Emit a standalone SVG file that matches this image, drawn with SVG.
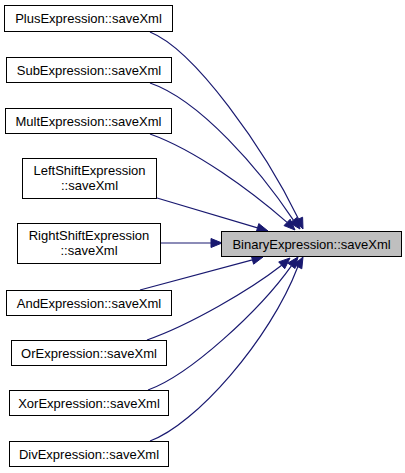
<svg xmlns="http://www.w3.org/2000/svg" width="405" height="473" viewBox="0 0 405 473">
<style>
.box{fill:#ffffff;stroke:#000000;stroke-width:1}
.main{fill:#bfbfbf;stroke:#000000;stroke-width:1}
text{font-family:"Liberation Sans",Arial,sans-serif;font-size:13px;fill:#000000;text-anchor:middle}
.edge path{fill:none;stroke:#191970;stroke-width:1.2}
.edge polygon{fill:#191970;stroke:#191970;stroke-width:1}
</style>
<rect width="405" height="473" fill="#ffffff"/>
<g id="edges" class="edge">
<path d="M150,32 C195,50 265,150 298.5,219"/>
<polygon points="294.4,220.9 302.6,217.2 303,229"/>
<path d="M150,83 C200,100 260,170 293.4,220.2"/>
<polygon points="289.8,222.9 297,217.5 300,229"/>
<path d="M150,134 C195,150 250,190 287.1,222.4"/>
<polygon points="284,225.6 290.2,219.2 295,230"/>
<path d="M157,198 L257.5,227.9"/>
<polygon points="256.2,232.2 258.8,223.6 268,231"/>
<path d="M161,243 L211,243"/>
<polygon points="211,238.5 211,247.5 222,243"/>
<path d="M140,290 L252.4,259.8"/>
<polygon points="253.6,264.2 251.2,255.5 263,257"/>
<path d="M147,340 C190,325 250,290 281.7,265.3"/>
<polygon points="284.7,268.7 278.7,261.9 290,258"/>
<path d="M148,390 C190,375 260,310 291.4,265.8"/>
<polygon points="295,268.5 287.8,263.1 298,257"/>
<path d="M150,441 C195,425 270,340 297.8,266.7"/>
<polygon points="301.8,268.8 293.8,264.6 303,257"/>
</g>
<g id="binary"><rect class="main" x="221.5" y="231.5" width="180" height="25"/><text x="311.5" y="248.5">BinaryExpression::saveXml</text></g>
<g id="plus"><rect class="box" x="4.5" y="5.5" width="168" height="26"/><text x="88.5" y="23">PlusExpression::saveXml</text></g>
<g id="sub"><rect class="box" x="6.5" y="57.5" width="165" height="25"/><text x="89" y="74.5">SubExpression::saveXml</text></g>
<g id="mult"><rect class="box" x="5.5" y="108.5" width="166" height="25"/><text x="88.5" y="125.5">MultExpression::saveXml</text></g>
<g id="leftshift"><rect class="box" x="22.5" y="158.5" width="134" height="40"/><text x="89.5" y="175">LeftShiftExpression</text><text x="89.5" y="190">::saveXml</text></g>
<g id="rightshift"><rect class="box" x="17.5" y="223.5" width="143" height="40"/><text x="89" y="240">RightShiftExpression</text><text x="89" y="255">::saveXml</text></g>
<g id="and"><rect class="box" x="6.5" y="290.5" width="165" height="25"/><text x="89" y="307.5">AndExpression::saveXml</text></g>
<g id="or"><rect class="box" x="11.5" y="340.5" width="155" height="25"/><text x="89" y="357.5">OrExpression::saveXml</text></g>
<g id="xor"><rect class="box" x="9.5" y="390.5" width="159" height="25"/><text x="89" y="407.5">XorExpression::saveXml</text></g>
<g id="div"><rect class="box" x="9.5" y="441.5" width="159" height="25"/><text x="89" y="458.5">DivExpression::saveXml</text></g>
</svg>
